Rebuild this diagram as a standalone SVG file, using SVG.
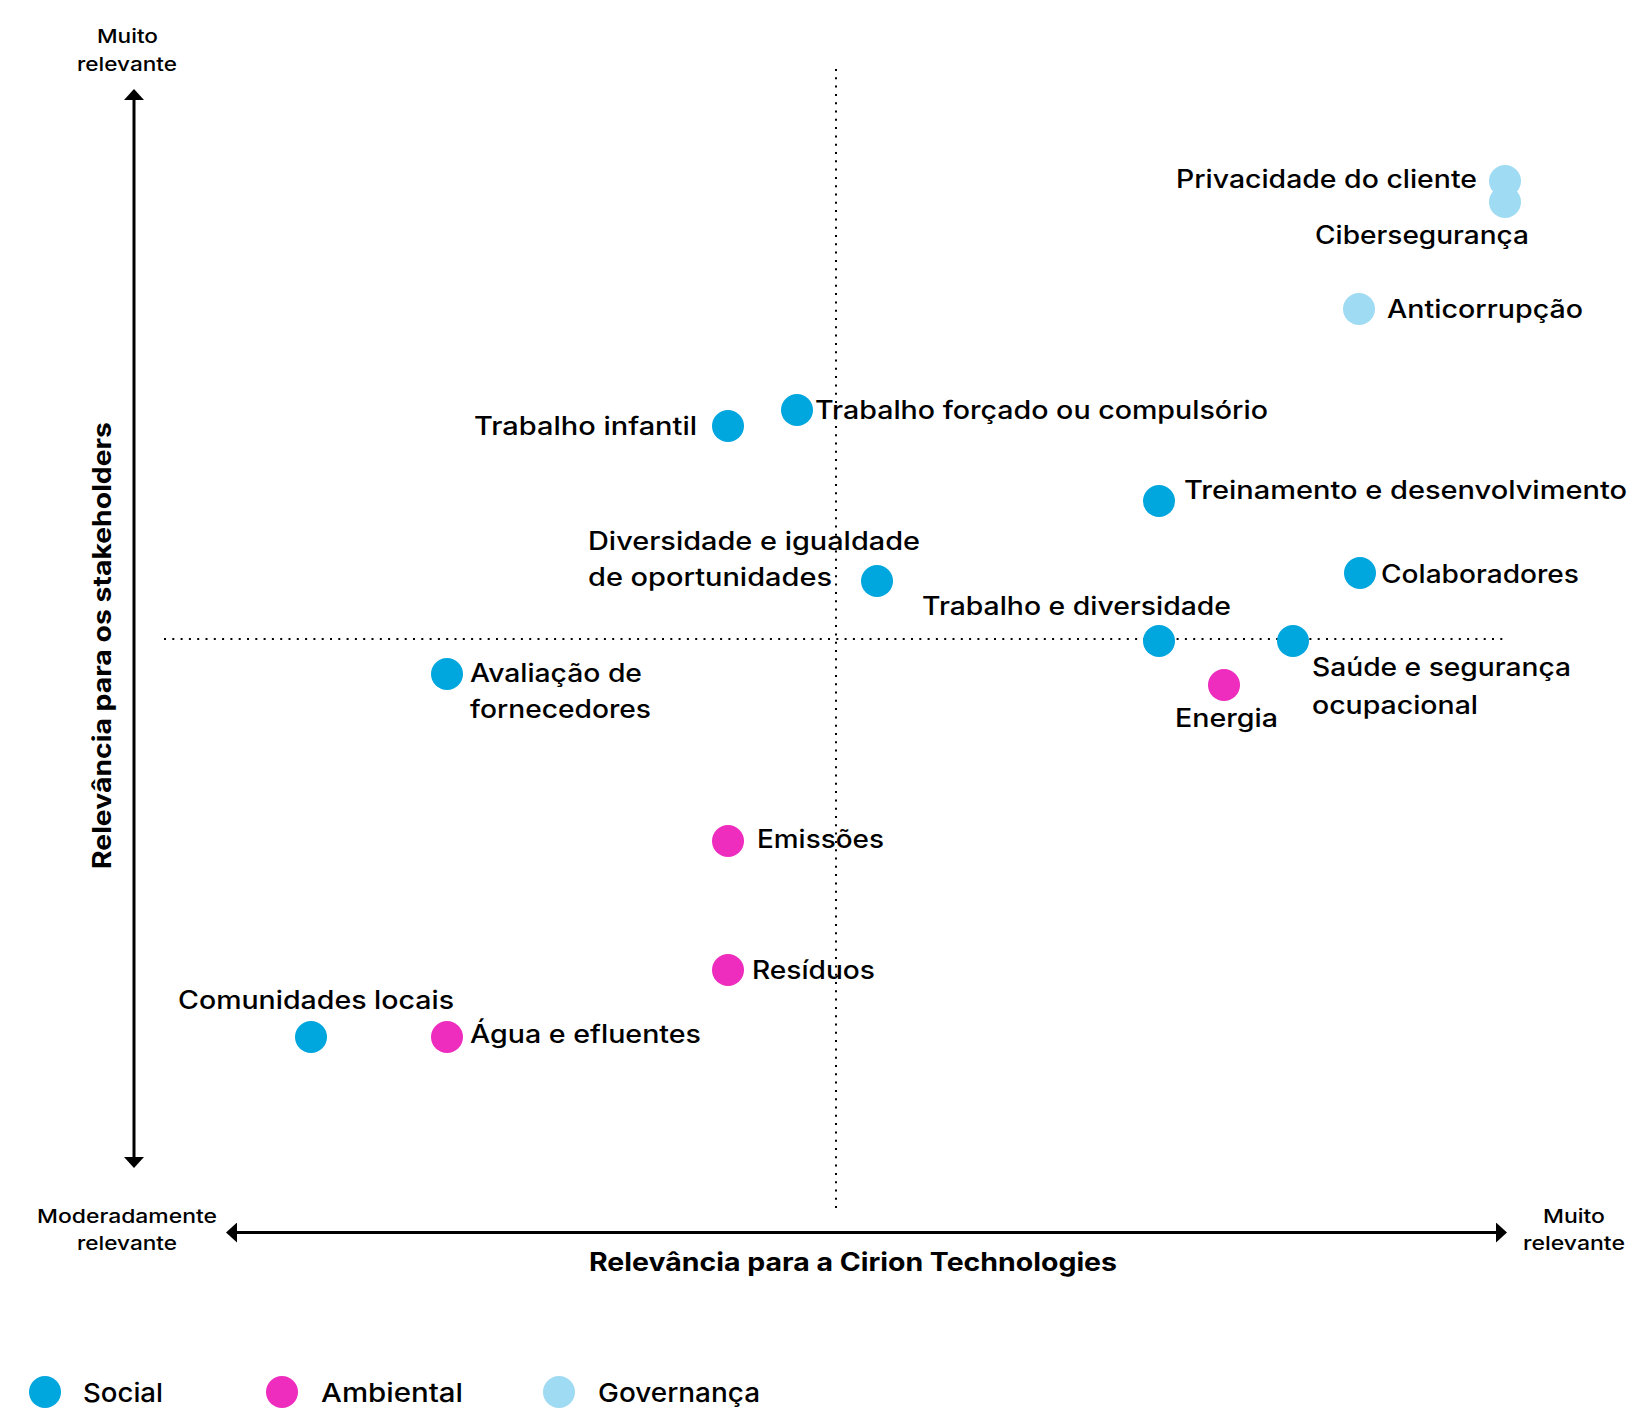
<svg xmlns="http://www.w3.org/2000/svg" width="1635" height="1408" viewBox="0 0 1635 1408">
<style>
text{font-family:"Inter","Liberation Sans",sans-serif;fill:#000;}
.lb{font-size:25px;font-weight:500;}
.sm{font-size:19px;font-weight:500;}
.tt{font-size:25px;font-weight:700;}
.lg{font-size:26px;font-weight:500;}
.soc{fill:#00A6DE;}
.amb{fill:#EE2DBE;}
.gov{fill:#9FDBF2;}
.axis{stroke:#000;stroke-width:3;fill:none;}
.dot{stroke:#000;stroke-width:2;stroke-dasharray:2 6.3;fill:none;}
</style>
<defs>
<marker id="arr" markerUnits="userSpaceOnUse" markerWidth="11" markerHeight="20" viewBox="0 0 11 20" refX="5" refY="10" orient="auto-start-reverse">
<path d="M0,0 L11,10 L0,20 Z" fill="#000"/>
</marker>
</defs>
<rect width="1635" height="1408" fill="#fff"/>

<g id="connectors">
<line class="axis" x1="134" y1="95" x2="134" y2="1162" marker-start="url(#arr)" marker-end="url(#arr)"/>
<line class="axis" x1="232" y1="1232.5" x2="1501" y2="1232.5" marker-start="url(#arr)" marker-end="url(#arr)"/>
<line class="dot" x1="836" y1="69" x2="836" y2="1208"/>
<line class="dot" x1="164" y1="639" x2="1508" y2="639"/>
</g>

<g id="axis-labels">
<text class="sm" x="97" y="43" textLength="61" lengthAdjust="spacingAndGlyphs">Muito</text>
<text class="sm" x="77" y="71" textLength="100" lengthAdjust="spacingAndGlyphs">relevante</text>
<text class="sm" x="37" y="1223" textLength="180" lengthAdjust="spacingAndGlyphs">Moderadamente</text>
<text class="sm" x="77" y="1250" textLength="100" lengthAdjust="spacingAndGlyphs">relevante</text>
<text class="sm" x="1543" y="1223" textLength="62" lengthAdjust="spacingAndGlyphs">Muito</text>
<text class="sm" x="1523" y="1250" textLength="102" lengthAdjust="spacingAndGlyphs">relevante</text>
<text class="tt" x="589" y="1271" textLength="528" lengthAdjust="spacingAndGlyphs">Relevância para a Cirion Technologies</text>
<text class="tt" transform="rotate(-90)" x="-869" y="111" textLength="447" lengthAdjust="spacingAndGlyphs">Relevância para os stakeholders</text>
</g>

<g id="n-privacidade"><circle class="gov" cx="1505" cy="181" r="16"/><text class="lb" x="1176" y="188" textLength="301" lengthAdjust="spacingAndGlyphs">Privacidade do cliente</text></g>
<g id="n-ciberseguranca"><circle class="gov" cx="1505" cy="202" r="16"/><text class="lb" x="1315" y="244" textLength="214" lengthAdjust="spacingAndGlyphs">Cibersegurança</text></g>
<g id="n-anticorrupcao"><circle class="gov" cx="1359" cy="309" r="16"/><text class="lb" x="1387" y="318" textLength="196" lengthAdjust="spacingAndGlyphs">Anticorrupção</text></g>
<g id="n-trabalho-forcado"><circle class="soc" cx="797" cy="410" r="16"/><text class="lb" x="815" y="419" textLength="453" lengthAdjust="spacingAndGlyphs">Trabalho forçado ou compulsório</text></g>
<g id="n-trabalho-infantil"><circle class="soc" cx="728" cy="426" r="16"/><text class="lb" x="474" y="435" textLength="223" lengthAdjust="spacingAndGlyphs">Trabalho infantil</text></g>
<g id="n-treinamento"><circle class="soc" cx="1159" cy="501" r="16"/><text class="lb" x="1184" y="499" textLength="443" lengthAdjust="spacingAndGlyphs">Treinamento e desenvolvimento</text></g>
<g id="n-diversidade"><circle class="soc" cx="877" cy="581" r="16"/><text class="lb" x="588" y="550" textLength="332" lengthAdjust="spacingAndGlyphs">Diversidade e igualdade</text><text class="lb" x="588" y="586" textLength="244" lengthAdjust="spacingAndGlyphs">de oportunidades</text></g>
<g id="n-colaboradores"><circle class="soc" cx="1360" cy="573" r="16"/><text class="lb" x="1381" y="583" textLength="198" lengthAdjust="spacingAndGlyphs">Colaboradores</text></g>
<g id="n-trabalho-diversidade"><circle class="soc" cx="1159" cy="641" r="16"/><text class="lb" x="922" y="615" textLength="309" lengthAdjust="spacingAndGlyphs">Trabalho e diversidade</text></g>
<g id="n-saude"><circle class="soc" cx="1293" cy="641" r="16"/><text class="lb" x="1312" y="676" textLength="259" lengthAdjust="spacingAndGlyphs">Saúde e segurança</text><text class="lb" x="1312" y="714" textLength="166" lengthAdjust="spacingAndGlyphs">ocupacional</text></g>
<g id="n-energia"><circle class="amb" cx="1224" cy="685" r="16"/><text class="lb" x="1175" y="727" textLength="103" lengthAdjust="spacingAndGlyphs">Energia</text></g>
<g id="n-avaliacao"><circle class="soc" cx="447" cy="674" r="16"/><text class="lb" x="470" y="682" textLength="172" lengthAdjust="spacingAndGlyphs">Avaliação de</text><text class="lb" x="470" y="718" textLength="181" lengthAdjust="spacingAndGlyphs">fornecedores</text></g>
<g id="n-emissoes"><circle class="amb" cx="728" cy="841" r="16"/><text class="lb" x="757" y="848" textLength="127" lengthAdjust="spacingAndGlyphs">Emissões</text></g>
<g id="n-residuos"><circle class="amb" cx="728" cy="970" r="16"/><text class="lb" x="752" y="979" textLength="123" lengthAdjust="spacingAndGlyphs">Resíduos</text></g>
<g id="n-comunidades"><circle class="soc" cx="311" cy="1037" r="16"/><text class="lb" x="178" y="1009" textLength="276" lengthAdjust="spacingAndGlyphs">Comunidades locais</text></g>
<g id="n-agua"><circle class="amb" cx="447" cy="1037" r="16"/><text class="lb" x="470" y="1043" textLength="231" lengthAdjust="spacingAndGlyphs">Água e efluentes</text></g>

<g id="legend">
<g id="legend-social"><circle class="soc" cx="45" cy="1392" r="16"/><text class="lg" x="83" y="1402" textLength="80" lengthAdjust="spacingAndGlyphs">Social</text></g>
<g id="legend-ambiental"><circle class="amb" cx="282" cy="1392" r="16"/><text class="lg" x="321" y="1402" textLength="142" lengthAdjust="spacingAndGlyphs">Ambiental</text></g>
<g id="legend-governanca"><circle class="gov" cx="559" cy="1392" r="16"/><text class="lg" x="598" y="1402" textLength="162" lengthAdjust="spacingAndGlyphs">Governança</text></g>
</g>
</svg>
